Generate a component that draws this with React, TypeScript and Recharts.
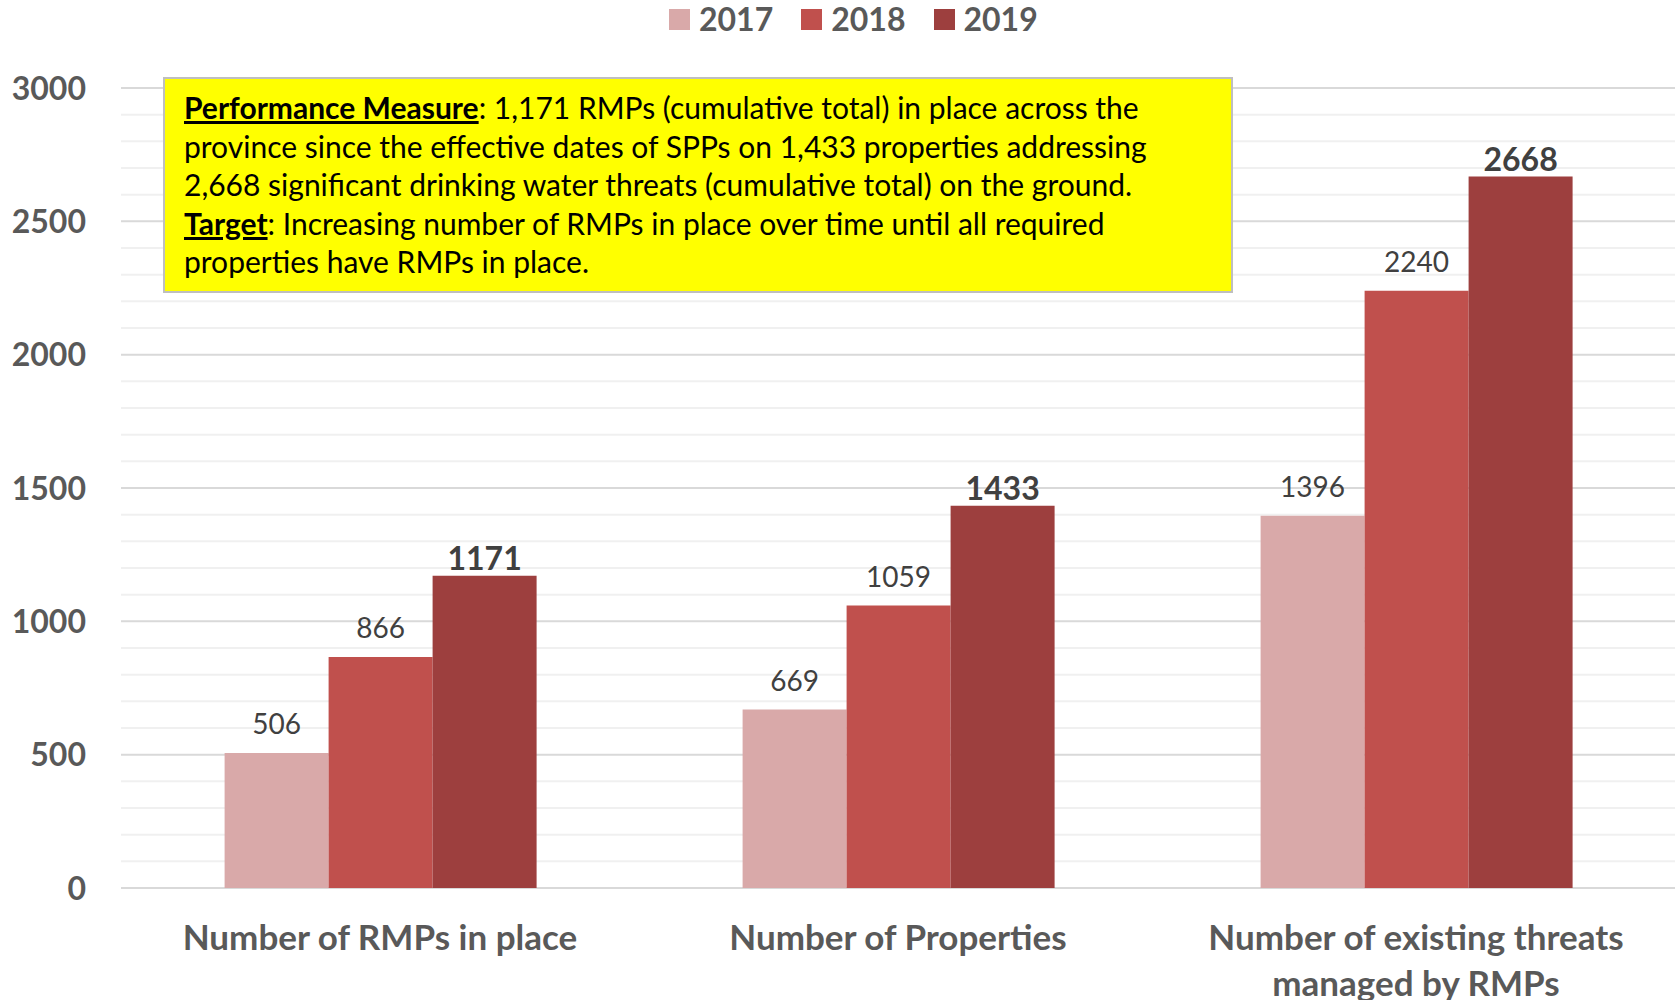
import { Bar, BarChart, CartesianGrid, LabelList, XAxis, YAxis } from 'recharts';

const CATEGORIES = [
  'Number of RMPs in place',
  'Number of Properties',
  'Number of existing threats\nmanaged by RMPs',
];
const YEARS = ['2017', '2018', '2019'];
const VALUES_2017 = [506, 669, 1396];
const VALUES_2018 = [866, 1059, 2240];
const VALUES_2019 = [1171, 1433, 2668];
const Y_TICKS = [0, 500, 1000, 1500, 2000, 2500, 3000];
const COLORS = ['#d9a9a9', '#c0504d', '#9d3f3e'];

const NOTE_LINES = [
  [{ b: 'Performance Measure' }, ': 1,171 RMPs (cumulative total) in place across the'],
  ['province since the effective dates of SPPs on 1,433 properties addressing'],
  ['2,668 significant drinking water threats (cumulative total) on the ground.'],
  [{ b: 'Target' }, ': Increasing number of RMPs in place over time until all required'],
  ['properties have RMPs in place.'],
];

const data = CATEGORIES.map((name, i) => ({
  name,
  y2017: VALUES_2017[i],
  y2018: VALUES_2018[i],
  y2019: VALUES_2019[i],
}));

// light minor gridlines every 100
const MINOR: number[] = [];
for (let v = 100; v < 3000; v += 100) if (v % 500 !== 0) MINOR.push(v);

const W = 1678;
const H = 1000;

function makeLabel(bold: boolean) {
  return (props: any) => {
    const { x, y, width, value } = props;
    return (
      <text
        x={Number(x) + Number(width) / 2}
        y={Number(y) - (bold ? 6 : 19)}
        textAnchor="middle"
        fill="#404040"
        fontSize={bold ? 32 : 28}
        fontWeight={bold ? 700 : 400}
      >
        {value}
      </text>
    );
  };
}

function CategoryTick({ x, y, payload }: any) {
  const lines = String(payload.value).split('\n');
  return (
    <text x={x} y={y + 54} textAnchor="middle" fill="#595959" fontSize={35} fontWeight={700}>
      {lines.map((l, i) => (
        <tspan key={i} x={x} dy={i === 0 ? 0 : 46}>
          {l}
        </tspan>
      ))}
    </text>
  );
}

function ValueTick({ y, payload }: any) {
  return (
    <text x={86} y={y + 11.5} textAnchor="end" fill="#595959" fontSize={32} fontWeight={700}>
      {payload.value}
    </text>
  );
}

export default function App() {
  const keys = ['y2017', 'y2018', 'y2019'];
  return (
    <div
      style={{
        position: 'fixed',
        left: 0,
        top: 0,
        width: W,
        height: H,
        background: '#fff',
        fontFamily: 'Lato, "Open Sans", sans-serif',
        overflow: 'hidden',
      }}
    >
      <BarChart
        width={W}
        height={H}
        data={data}
        margin={{ top: 88, right: 3, bottom: 0, left: 0 }}
        barCategoryGap="20%"
        barGap={0}
      >
        <CartesianGrid vertical={false} horizontalValues={MINOR} stroke="#f0f0f0" strokeWidth={2} />
        <CartesianGrid vertical={false} horizontalValues={Y_TICKS} stroke="#d9d9d9" strokeWidth={2} />
        <XAxis
          dataKey="name"
          height={112}
          axisLine={false}
          tickLine={false}
          interval={0}
          tick={<CategoryTick />}
        />
        <YAxis
          width={121}
          domain={[0, 3000]}
          ticks={Y_TICKS}
          axisLine={false}
          tickLine={false}
          tick={<ValueTick />}
        />
        {keys.map((k, i) => (
          <Bar key={k} dataKey={k} name={YEARS[i]} fill={COLORS[i]} isAnimationActive={false}>
            <LabelList dataKey={k} content={makeLabel(i === 2)} />
          </Bar>
        ))}
      </BarChart>

      {/* legend */}
      <div
        style={{
          position: 'absolute',
          top: 4,
          left: 669,
          display: 'flex',
          alignItems: 'center',
          color: '#595959',
          fontWeight: 700,
          fontSize: 32,
          lineHeight: '30px',
        }}
      >
        {YEARS.map((y, i) => (
          <div key={y} style={{ display: 'flex', alignItems: 'center', marginRight: 28 }}>
            <span style={{ width: 21, height: 21, background: COLORS[i], marginRight: 9 }} />
            <span>{y}</span>
          </div>
        ))}
      </div>

      {/* note box */}
      <div
        style={{
          position: 'absolute',
          left: 163,
          top: 77,
          width: 1070,
          height: 216,
          boxSizing: 'border-box',
          background: '#ffff00',
          border: '2px solid #bfbfbf',
          padding: '9px 0 0 19px',
          color: '#000',
          fontSize: 30,
          lineHeight: '38.5px',
          whiteSpace: 'nowrap',
        }}
      >
        {NOTE_LINES.map((line, i) => (
          <div key={i}>
            {line.map((part, j) =>
              typeof part === 'string' ? (
                <span key={j}>{part}</span>
              ) : (
                <span key={j} style={{ fontWeight: 700, textDecoration: 'underline' }}>
                  {part.b}
                </span>
              ),
            )}
          </div>
        ))}
      </div>
    </div>
  );
}
